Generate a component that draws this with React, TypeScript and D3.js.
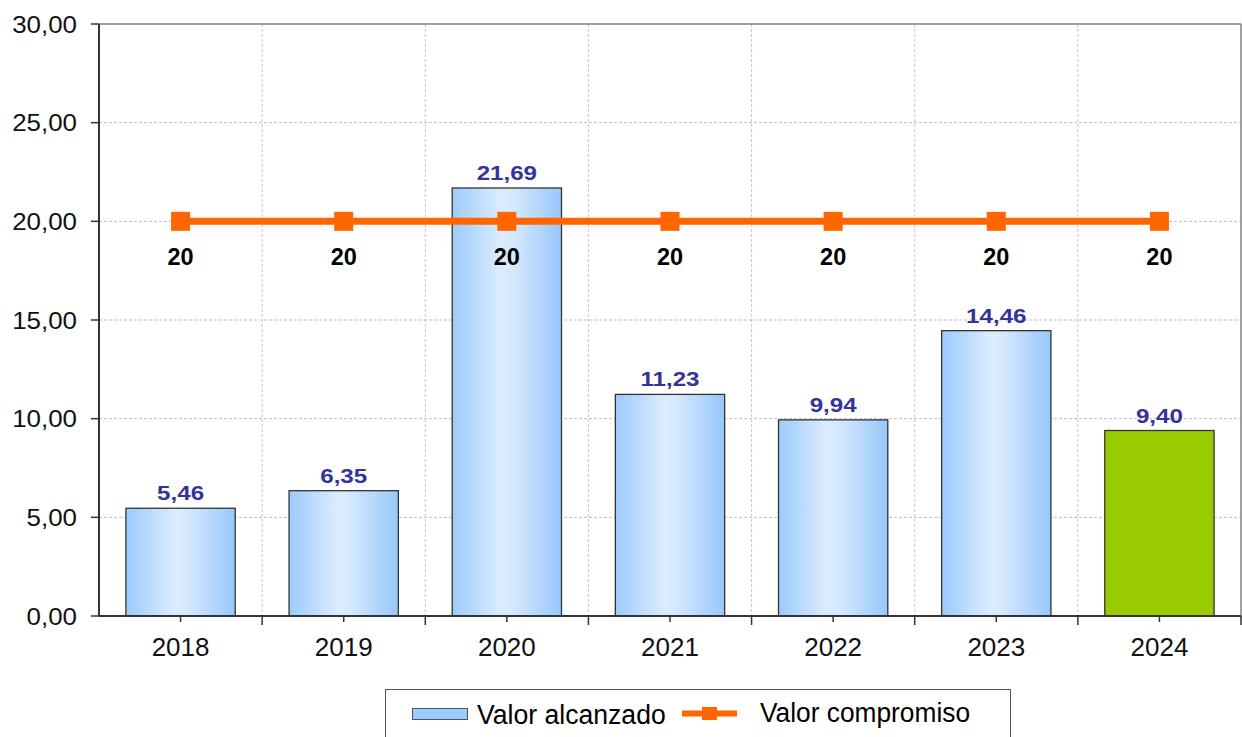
import React from "react";
import * as d3 from "d3";

const years = ["2018", "2019", "2020", "2021", "2022", "2023", "2024"];
const achieved = [5.46, 6.35, 21.69, 11.23, 9.94, 14.46, 9.4];
const commitment = [20, 20, 20, 20, 20, 20, 20];
const yTicks = [0, 5, 10, 15, 20, 25, 30];

const W = 1242;
const H = 737;
const left = 99;
const right = 1241;
const top = 24;
const bottom = 616;

const font = "'Liberation Sans', Arial, sans-serif";

function T(props: {
  x: number;
  y: number;
  size: number;
  sx?: number;
  anchor?: string;
  bold?: boolean;
  fill?: string;
  children: React.ReactNode;
}) {
  const { x, y, size, sx = 1, anchor = "start", bold, fill = "#000", children } = props;
  return (
    <text
      transform={`translate(${x},${y}) scale(${sx},1)`}
      textAnchor={anchor}
      fontSize={size}
      fontWeight={bold ? "bold" : "normal"}
      fill={fill}
      fontFamily={font}
    >
      {children}
    </text>
  );
}

export default function App() {
  const x = d3.scaleBand<string>().domain(years).range([left, right]).paddingInner(0).paddingOuter(0);
  const y = d3.scaleLinear().domain([0, 30]).range([bottom, top]);
  const bw = x.bandwidth() * 0.67;
  const fmt = (v: number) => v.toFixed(2).replace(".", ",");
  const cx = (c: string) => (x(c) as number) + x.bandwidth() / 2;
  const line = d3
    .line<number>()
    .x((_, i) => cx(years[i]))
    .y((d) => y(d));

  return (
    <svg width={W} height={H} style={{ position: "absolute", left: 0, top: 0 }} fontFamily={font}>
      <defs>
        <linearGradient id="barGrad" x1="0" x2="1" y1="0" y2="0">
          <stop offset="0" stopColor="#9ccbfb" />
          <stop offset="0.45" stopColor="#dcecff" />
          <stop offset="0.55" stopColor="#d6e9ff" />
          <stop offset="1" stopColor="#97c7fa" />
        </linearGradient>
      </defs>
      <rect x={0} y={0} width={W} height={H} fill="#fff" />
      {yTicks.filter((t) => t > 0 && t < 30).map((t) => (
        <line key={"hg" + t} x1={left} x2={right} y1={y(t)} y2={y(t)} stroke="#bdbdbd" strokeDasharray="3,2" strokeWidth={1} />
      ))}
      {years.slice(1).map((c) => (
        <line key={"vg" + c} x1={x(c)} x2={x(c)} y1={top} y2={bottom} stroke="#c8c8c8" strokeDasharray="3,2" strokeWidth={1} />
      ))}
      <line x1={left} x2={right} y1={top} y2={top} stroke="#808080" strokeWidth={1.5} />
      <line x1={right} x2={right} y1={top} y2={bottom} stroke="#808080" strokeWidth={1.5} />
      {achieved.map((v, i) => (
        <rect
          key={"b" + i}
          x={cx(years[i]) - bw / 2}
          y={y(v)}
          width={bw}
          height={bottom - y(v)}
          fill={i === achieved.length - 1 ? "#99cc00" : "url(#barGrad)"}
          stroke="#333"
          strokeWidth={1.3}
        />
      ))}
      {achieved.map((v, i) => (
        <T key={"bl" + i} x={cx(years[i])} y={y(v) - 8} size={21} sx={1.15} anchor="middle" bold fill="#333399">
          {fmt(v)}
        </T>
      ))}
      <line x1={left} x2={left} y1={top} y2={bottom} stroke="#333" strokeWidth={2} />
      <line x1={left} x2={right} y1={bottom} y2={bottom} stroke="#333" strokeWidth={2} />
      {yTicks.map((t) => (
        <g key={"yt" + t}>
          <line x1={left - 8} x2={left} y1={y(t)} y2={y(t)} stroke="#333" strokeWidth={1.5} />
          <T x={77} y={y(t) + 8.5} size={24} sx={1.08} anchor="end" fill="#111">
            {fmt(t)}
          </T>
        </g>
      ))}
      {years.map((c) => (
        <g key={"xt" + c}>
          <line x1={cx(c)} x2={cx(c)} y1={bottom} y2={bottom + 6} stroke="#333" strokeWidth={1.5} />
          <line x1={(x(c) as number) + x.bandwidth()} x2={(x(c) as number) + x.bandwidth()} y1={bottom} y2={bottom + 9} stroke="#333" strokeWidth={1.5} />
          <T x={cx(c)} y={656} size={25} sx={1.04} anchor="middle" fill="#111">
            {c}
          </T>
        </g>
      ))}
      <path d={line(commitment) || ""} fill="none" stroke="#ff6600" strokeWidth={7} />
      {commitment.map((v, i) => (
        <rect key={"m" + i} x={cx(years[i]) - 9.5} y={y(v) - 9.5} width={19} height={19} fill="#ff6600" />
      ))}
      {commitment.map((v, i) => (
        <T key={"ml" + i} x={cx(years[i])} y={y(v) + 44} size={23.5} anchor="middle" bold fill="#000">
          {String(v)}
        </T>
      ))}
      <rect x={385.5} y={689.5} width={625} height={60} fill="#fff" stroke="#555" strokeWidth={1} />
      <rect x={412.5} y={708.5} width={55} height={11} fill="#99ccff" stroke="#555" strokeWidth={1} />
      <T x={477} y={724} size={28} sx={0.95} fill="#000">Valor alcanzado</T>
      <line x1={682} x2={737} y1={713.5} y2={713.5} stroke="#ff6600" strokeWidth={6} />
      <rect x={702} y={707} width={15} height={13} fill="#ff6600" />
      <T x={760} y={722} size={28} sx={0.94} fill="#000">Valor compromiso</T>
    </svg>
  );
}
